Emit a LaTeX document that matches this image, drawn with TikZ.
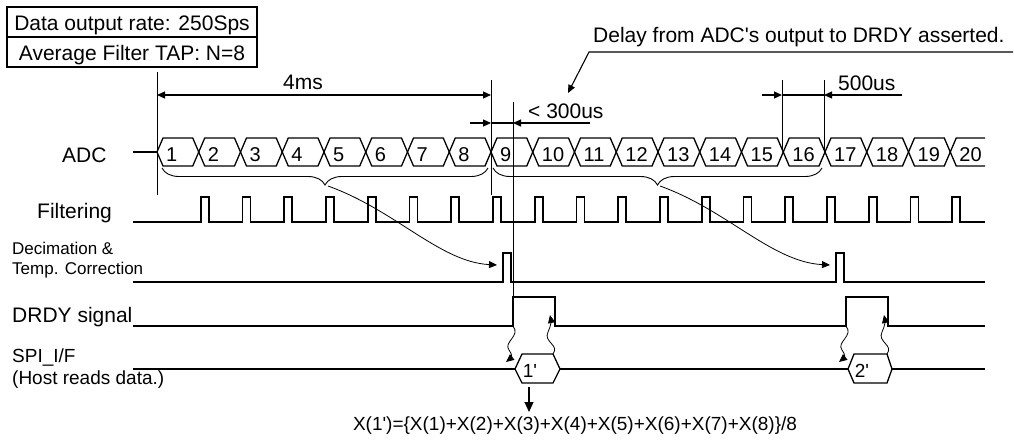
\documentclass[tikz,border=0pt]{standalone}
\usepackage{fontspec}
\setmainfont{Liberation Sans}[Ligatures=TeXOff]
\usetikzlibrary{arrows.meta, positioning, decorations.pathreplacing}
\tikzset{
  sig/.style={line width=1.6pt},
  bus/.style={line width=1.3pt},
  refline/.style={line width=0.8pt},
  dimline/.style={line width=1.1pt},
  arrowend/.style={-{Triangle[length=8pt,width=7pt]}},
  lbl/.style={inner sep=0pt, anchor=base west, font=\fontsize{21}{24}\selectfont},
  minor/.style={lbl, font=\fontsize{17}{20}\selectfont},
  num/.style={lbl, font=\fontsize{19}{22}\selectfont},
  hdr/.style={draw, line width=1.1pt, minimum width=250pt, minimum height=30pt, inner sep=0pt,
    outer sep=0pt, text height=16pt, text depth=0pt, font=\fontsize{21}{24}\selectfont},
  brc/.style={decorate, decoration={brace, mirror, amplitude=17pt}, line width=0.9pt}
}
\begin{document}
\begin{tikzpicture}[x=1pt, y=-1pt]
\path[fill=white] (0,0) rectangle (1014,439);
\useasboundingbox (0,0) rectangle (1014,439);

\node[hdr, anchor=north west] (rate) at (7,7) {Data output rate: 250Sps};
\node[hdr, below=0pt of rate] (tap) {Average Filter TAP: N=8};

\node[lbl] (adc) at (62,162) {ADC};
\node[lbl] (filt) at (37,218) {Filtering};
\node[minor] (dec1) at (12,254) {Decimation \&};
\node[minor] (dec2) at (12,274) {Temp. Correction};
\node[lbl] (drdy) at (12,322) {DRDY signal};
\node[num] (spi1) at (12,362) {SPI\_I/F};
\node[num] (spi2) at (12,384) {(Host reads data.)};

\draw[bus] (133,152) -- (157,152);
\foreach \k in {0,...,18}{
  \pgfmathsetmacro{\xa}{157+41.75*\k}
  \pgfmathsetmacro{\xb}{157+41.75*(\k+1)}
  \draw[bus] (\xa,152) -- (\xa+6,138) -- (\xb-6,138) -- (\xb,152) -- (\xb-6,166) -- (\xa+6,166) -- cycle;
}
\draw[bus] (985,138) -- (956.25,138) -- (950.25,152) -- (956.25,166) -- (985,166);
\foreach \k in {1,...,20}
  \node[num, font=\fontsize{20}{22}\selectfont] (c\k) at ({157+41.75*(\k-1)+9},161) {\k};

\draw[sig] (133,222) \foreach \k in {1,...,19}{ -- ({159+41.75*\k},222) -- ++(0,-25) -- ++(8,0) -- ++(0,25)} -- (985,222);
\draw[sig] (133,282) -- (503,282) -- (503,253) -- (511,253) -- (511,282) -- (836,282) -- (836,253) -- (844,253) -- (844,282) -- (985,282);
\draw[sig] (133,326) -- (513,326) -- (513,297) -- (555,297) -- (555,326) -- (846,326) -- (846,297) -- (888,297) -- (888,326) -- (985,326);
\draw[sig] (133,369) -- (515,369) (560,369) -- (848,369) (892,369) -- (985,369);
\draw[bus] (515,369) -- (522,354) -- (553,354) -- (560,369) -- (553,383) -- (522,383) -- cycle;
\draw[bus] (848,369) -- (854,354) -- (887,354) -- (892,369) -- (887,383) -- (854,383) -- cycle;
\node[num, anchor=center] (r1) at (530,371) {1'};
\node[num, anchor=center] (r2) at (862,371) {2'};

\draw[refline] (157,72) -- (157,195);
\draw[refline] (491,80) -- (491,195);
\draw[refline] (513,102) -- (513,326);
\draw[refline] (782,80) -- (782,150);
\draw[refline] (824,80) -- (824,150);

\draw[dimline, {Triangle[length=8pt,width=7pt]}-{Triangle[length=8pt,width=7pt]}] (157,95) -- (491,95);
\node[lbl, anchor=base] (t4) at (303,89) {4ms};
\draw[dimline] (491,123) -- (513,123);
\draw[dimline, arrowend] (470,123) -- (491,123);
\draw[dimline, arrowend] (590,123) -- (513,123);
\node[lbl] (t300) at (528,118) {< 300us};
\draw[dimline] (782,95) -- (824,95);
\draw[dimline, arrowend] (762,95) -- (782,95);
\draw[dimline, arrowend] (902,95) -- (824,95);
\node[lbl] (t500) at (838,90) {500us};

\node[lbl] (delay) at (593,42) {Delay from ADC's output to DRDY asserted.};
\draw[dimline, arrowend] (1013,52) -- (589,52) -- (568,93);

\draw[brc] (162,168) -- (488,168);
\draw[brc] (493,168) -- (822,168);
\draw[refline, arrowend] (328,186) .. controls (395,210) and (440,262) .. (497,265);
\draw[refline, arrowend] (660,186) .. controls (727,210) and (772,262) .. (830,265);

\draw[refline, arrowend] (513,326) .. controls (521,336) and (503,342) .. (509,350) .. controls (513,355) and (511,358) .. (506,362);
\draw[refline, arrowend] (553,354) .. controls (560,345) and (543,342) .. (548,332) .. controls (551,326) and (551,320) .. (550,315);
\draw[refline, arrowend] (846,326) .. controls (854,336) and (836,342) .. (842,350) .. controls (846,355) and (844,358) .. (839,362);
\draw[refline, arrowend] (887,354) .. controls (894,345) and (877,342) .. (882,332) .. controls (885,326) and (885,320) .. (884,315);

\node[num, anchor=base] (sum) at (575,430) {X(1')=\{X(1)+X(2)+X(3)+X(4)+X(5)+X(6)+X(7)+X(8)\}/8};
\draw[dimline, -{Triangle[length=10pt,width=9pt]}] (529,387) -- (529,412);
\end{tikzpicture}
\end{document}
